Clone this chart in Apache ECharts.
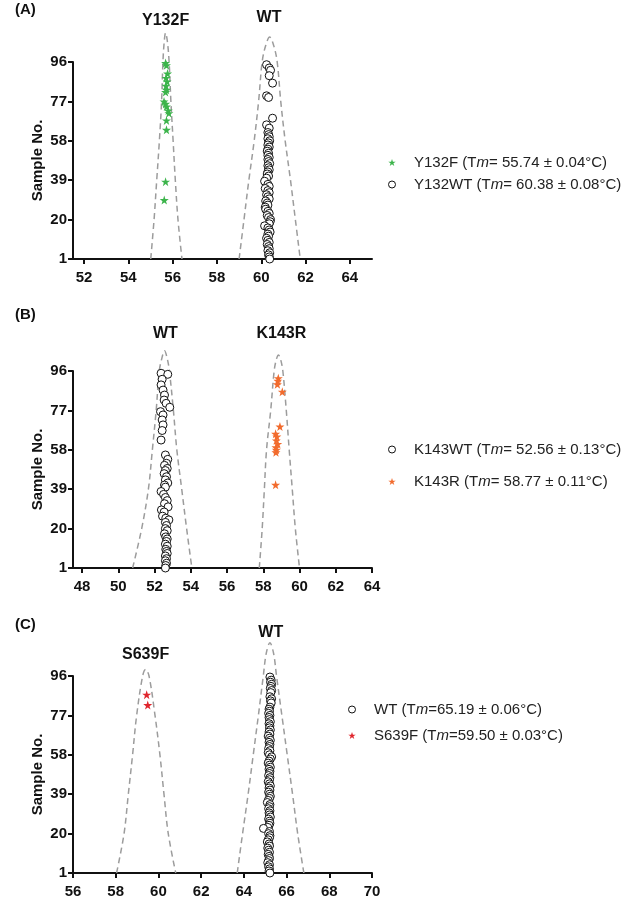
<!DOCTYPE html>
<html>
<head>
<meta charset="utf-8">
<script src="https://cdn.jsdelivr.net/npm/echarts@6.0.0/dist/echarts.min.js"></script>
<style>
html, body { margin: 0; padding: 0; background: #fff; }
#chart { width: 625px; height: 902px; }
</style>
</head>
<body>
<div id="chart"></div>
<script>
// tick labels
var yTicks = [1, 20, 39, 58, 77, 96];
var xTicksA = [52, 54, 56, 58, 60, 62, 64];
var xTicksB = [48, 50, 52, 54, 56, 58, 60, 62, 64];

// panel A: Y132F (stars) and WT (circles), [temp, sample no.]
var aMut = [[55.68,95.5],[55.72,94.4],[55.77,90.4],[55.7,88.3],[55.75,86.6],[55.7,84.5],[55.72,82.6],[55.68,81.5],
    [55.61,77],[55.68,75.8],[55.72,74.5],[55.8,72.6],[55.83,71.3],[55.72,67.8],[55.72,63.3],[55.68,38.3],[55.62,29.4]];
var aWt = [[60.24,94.7],[60.36,93.1],[60.42,92],[60.36,89.4],[60.51,85.8],[60.24,79.7],[60.33,78.9],[60.51,68.9],[60.24,65.7],[60.36,64.1],
    [60.3,62],[60.33,61],[60.36,60],[60.3,59],[60.38,58],[60.33,57],[60.3,56],[60.36,55],[60.3,54],[60.27,53],[60.33,52],[60.3,51],
    [60.36,50],[60.3,49],[60.33,48],[60.38,47],[60.3,46],[60.33,45],[60.36,44],[60.3,43],[60.27,42],[60.33,41],[60.24,40],[60.15,38.5],
    [60.3,37],[60.36,36],[60.18,35],[60.3,34],[60.36,33],[60.24,32],[60.3,31],[60.36,30],[60.2,29],[60.27,28],[60.3,27],[60.18,26],
    [60.2,25],[60.3,24],[60.36,23],[60.27,22],[60.33,21],[60.42,20],[60.4,19],[60.36,18],[60.15,17],[60.3,16],[60.36,15],[60.4,14],
    [60.3,13],[60.33,12],[60.24,11],[60.3,10],[60.36,9],[60.27,8],[60.33,7],[60.36,6],[60.3,5],[60.38,4],[60.33,3],[60.36,2],[60.38,1]];
var aCurveMut = [[55.01,1],[55.16,20],[55.28,39],[55.4,58],[55.5,77],[55.56,96],[55.62,106],[55.68,110],[55.76,106],[55.84,96],
    [55.92,77],[56.02,58],[56.12,39],[56.24,20],[56.42,1]];
var aCurveWt = [[59.0,1],[59.22,20],[59.44,39],[59.68,58],[59.88,77],[60.04,96],[60.2,104],[60.38,108],[60.56,104],[60.72,96],
    [60.88,77],[61.08,58],[61.32,39],[61.54,20],[61.76,1]];

// panel B: WT (circles) and K143R (stars)
var bWt = [[52.36,94.9],[52.73,94.4],[52.42,92],[52.36,89.3],[52.47,86.8],[52.55,84.4],[52.53,82],[52.64,80.4],[52.84,78.5],
    [52.33,76.4],[52.47,74.8],[52.42,72.4],[52.47,70],[52.42,67.3],[52.36,62.7],
    [52.6,55.5],[52.73,53.4],[52.66,51.5],[52.55,50.5],[52.7,49],[52.6,48],[52.53,46.5],[52.66,45],[52.6,43.5],[52.73,42],
    [52.55,41],[52.6,40],[52.36,37.9],[52.5,36.5],[52.6,35],[52.7,33.5],[52.55,32],[52.75,30.5],[52.38,29],[52.53,28],
    [52.44,26],[52.62,25],[52.79,24.2],[52.6,23],[52.66,21.5],[52.6,20],[52.7,19],[52.55,17.5],[52.62,16],[52.7,15],
    [52.66,13.8],[52.6,12.5],[52.7,11.5],[52.62,10],[52.66,9],[52.7,8],[52.6,6.8],[52.66,5.5],[52.6,4.5],[52.66,3.3],
    [52.62,2.2],[52.6,1]];
var bMut = [[58.83,92.5],[58.8,91.3],[58.78,89.6],[59.05,86],[58.92,69.2],[58.68,65.7],[58.75,64.4],[58.72,62.5],
    [58.8,60.8],[58.7,59.2],[58.72,58],[58.7,56.8],[58.68,41.1]];
var bCurveWt = [[50.79,1],[51.29,20],[51.66,39],[51.88,58],[52.09,77],[52.26,96],[52.4,102],[52.55,105.8],[52.7,102],
    [52.82,96],[53.04,77],[53.23,58],[53.5,39],[53.77,20],[54.06,1]];
var bCurveMut = [[57.78,1],[57.94,20],[58.06,39],[58.18,58],[58.41,77],[58.6,96],[58.72,101.5],[58.84,103.7],[58.96,101.5],
    [59.08,96],[59.27,77],[59.43,58],[59.6,39],[59.77,20],[60.0,1]];

// panel C: WT (circles) and S639F (stars)
var cWt = [[65.22,95.5],[65.28,94],[65.25,93],[65.3,92],[65.27,91],[65.24,90],[65.3,89],[65.26,88],[65.22,86],[65.3,85],
    [65.25,84],[65.28,83],[65.22,81],[65.18,80],[65.2,79],[65.16,78],[65.22,77],[65.18,76],[65.2,75],[65.24,74],[65.18,73],
    [65.22,72],[65.2,71],[65.24,70],[65.18,69],[65.22,68],[65.14,67],[65.2,66],[65.24,65],[65.18,64],[65.22,63],[65.2,62],
    [65.16,61],[65.22,60],[65.14,59],[65.2,58],[65.3,57],[65.24,56],[65.18,55],[65.14,54],[65.2,53],[65.24,52],[65.18,51],
    [65.22,50],[65.2,49],[65.16,48],[65.22,47],[65.2,46],[65.14,45],[65.2,44],[65.24,43],[65.18,42],[65.22,41],[65.16,40],
    [65.2,39],[65.24,38],[65.2,37],[65.14,36],[65.1,35],[65.22,34],[65.2,33],[65.16,32],[65.22,31],[65.18,30],[65.2,29],
    [65.24,28],[65.16,27],[65.2,26],[65.22,25],[65.18,24],[65.12,23],[64.92,22.5],[65.2,21],[65.16,20],[65.22,19],[65.2,18],
    [65.14,17],[65.1,16],[65.18,15],[65.2,14],[65.12,13],[65.16,12],[65.2,11],[65.14,10],[65.18,9],[65.2,8],[65.16,7],
    [65.12,6],[65.2,5],[65.16,4],[65.2,3],[65.18,2],[65.22,1]];
var cMut = [[59.45,87],[59.5,82]];
var cCurveMut = [[58.04,1],[58.39,20],[58.59,39],[58.79,58],[58.98,77],[59.26,96],[59.4,99.2],[59.56,96],[59.84,77],
    [60.07,58],[60.26,39],[60.46,20],[60.81,1]];
var cCurveWt = [[63.69,1],[63.94,20],[64.2,39],[64.44,58],[64.68,77],[64.91,96],[65.05,107],[65.22,112],[65.39,107],
    [65.53,96],[65.78,77],[66.03,58],[66.28,39],[66.52,20],[66.81,1]];

// peak titles [temp, sample no., text]
var aPeakNames = [[55.68, 116, 'Y132F'], [60.35, 117.2, 'WT']];
var bPeakNames = [[52.6, 113.8, 'WT'], [59.0, 113.8, 'K143R']];
var cPeakNames = [[59.4, 106.4, 'S639F'], [65.26, 117, 'WT']];

var legendText = {
    'Y132F': 'Y132F (T{i|m}= 55.74 ± 0.04°C)',
    'Y132WT': 'Y132WT (T{i|m}= 60.38 ± 0.08°C)',
    'K143WT': 'K143WT (T{i|m}= 52.56 ± 0.13°C)',
    'K143R': 'K143R (T{i|m}= 58.77 ± 0.11°C)',
    'WT': 'WT (T{i|m}=65.19 ± 0.06°C)',
    'S639F': 'S639F (T{i|m}=59.50 ± 0.03°C)'
};

var font = '"Liberation Sans", Arial, Helvetica, sans-serif';
var star = 'path://M50,0L61.8,35.1L98.1,35.1L68.8,56.7L79.4,90.9L50,69.6L20.6,90.9L31.2,56.7L1.9,35.1L38.2,35.1Z';
var green = '#3cb44b', orange = '#f26b2d', red = '#e0262d';

var chart = echarts.init(document.getElementById('chart'));

function curve(data, idx) {
    return {
        type: 'line', xAxisIndex: idx, yAxisIndex: idx, data: data,
        smooth: 0.35, symbol: 'none', clip: false, silent: true, z: 1,
        lineStyle: { color: '#9c9c9c', width: 1.5, type: [6, 4] }
    };
}
function stars(name, data, color, idx) {
    return {
        name: name, type: 'scatter', xAxisIndex: idx, yAxisIndex: idx, data: data,
        symbol: star, symbolSize: 9, clip: false, z: 3,
        itemStyle: { color: color, opacity: 1 }
    };
}
function circles(name, data, idx) {
    return {
        name: name, type: 'scatter', xAxisIndex: idx, yAxisIndex: idx, data: data,
        symbol: 'circle', symbolSize: 8, clip: false, z: 2,
        itemStyle: { color: '#fff', borderColor: '#111', borderWidth: 1, opacity: 1 }
    };
}
function peakNames(data, idx) {
    return {
        type: 'scatter', xAxisIndex: idx, yAxisIndex: idx, data: data, symbolSize: 0,
        clip: false, silent: true,
        itemStyle: { opacity: 1 },
        label: {
            show: true, position: 'inside', color: '#111', opacity: 1, fontFamily: font, fontSize: 16, fontWeight: 'bold',
            formatter: function (p) { return p.data[2]; }
        }
    };
}
function xAxis(idx, min, max, ticks) {
    var ax = {
        type: 'value', gridIndex: idx, min: min, max: max,
        axisLine: { onZero: false, lineStyle: { color: '#111', width: 2 } },
        axisTick: { length: 5, lineStyle: { color: '#111', width: 2 } },
        axisLabel: { color: '#111', fontFamily: font, fontSize: 15, fontWeight: 'bold', margin: 11 },
        splitLine: { show: false }
    };
    if (ticks) {
        ax.axisTick.customValues = ticks;
        ax.axisLabel.customValues = ticks;
    } else {
        ax.interval = 2;
    }
    return ax;
}
function yAxis(idx) {
    return {
        type: 'value', gridIndex: idx, min: 1, max: 96, interval: 19,
        name: 'Sample No.', nameLocation: 'middle', nameGap: 28,
        nameTextStyle: { color: '#111', fontFamily: font, fontSize: 15, fontWeight: 'bold' },
        axisLine: { show: true, onZero: false, lineStyle: { color: '#111', width: 2 } },
        axisTick: { show: true, length: 5, lineStyle: { color: '#111', width: 2 }, customValues: yTicks },
        axisLabel: { color: '#111', fontFamily: font, fontSize: 15, fontWeight: 'bold', margin: 6, customValues: yTicks },
        splitLine: { show: false }
    };
}
function legend(names, left, top, gap) {
    return {
        data: names, orient: 'vertical', left: left, top: top, itemGap: gap,
        itemWidth: 34, itemHeight: 7, selectedMode: false,
        itemStyle: { borderWidth: 1 },
        formatter: function (n) { return legendText[n]; },
        textStyle: {
            color: '#222', fontFamily: font, fontSize: 15,
            rich: { i: { fontStyle: 'italic', fontFamily: font, fontSize: 15, color: '#222' } }
        }
    };
}

var titleStyle = { fontFamily: font, fontSize: 15, fontWeight: 'bold', color: '#111' };

var option = {
    animation: false,
    backgroundColor: '#fff',
    title: [
        { text: '(A)', left: 15, top: 2, padding: 0, textStyle: titleStyle },
        { text: '(B)', left: 15, top: 307, padding: 0, textStyle: titleStyle },
        { text: '(C)', left: 15, top: 617, padding: 0, textStyle: titleStyle }
    ],
    grid: [
        { left: 73, top: 62, width: 299, height: 197 },
        { left: 73, top: 371, width: 299, height: 197 },
        { left: 73, top: 676, width: 299, height: 197 }
    ],
    xAxis: [xAxis(0, 51.5, 65, xTicksA), xAxis(1, 47.5, 64, xTicksB), xAxis(2, 56, 70)],
    yAxis: [yAxis(0), yAxis(1), yAxis(2)],
    legend: [
        legend(['Y132F', 'Y132WT'], 383, 150, 7),
        legend(['K143WT', 'K143R'], 383, 437, 17),
        legend(['WT', 'S639F'], 343, 697, 11)
    ],
    series: [
        curve(aCurveMut, 0), curve(aCurveWt, 0),
        stars('Y132F', aMut, green, 0), circles('Y132WT', aWt, 0), peakNames(aPeakNames, 0),
        curve(bCurveWt, 1), curve(bCurveMut, 1),
        circles('K143WT', bWt, 1), stars('K143R', bMut, orange, 1), peakNames(bPeakNames, 1),
        curve(cCurveMut, 2), curve(cCurveWt, 2),
        circles('WT', cWt, 2), stars('S639F', cMut, red, 2), peakNames(cPeakNames, 2)
    ]
};
chart.setOption(option);
window.addEventListener('resize', function () { chart.resize(); });
</script>
</body>
</html>
